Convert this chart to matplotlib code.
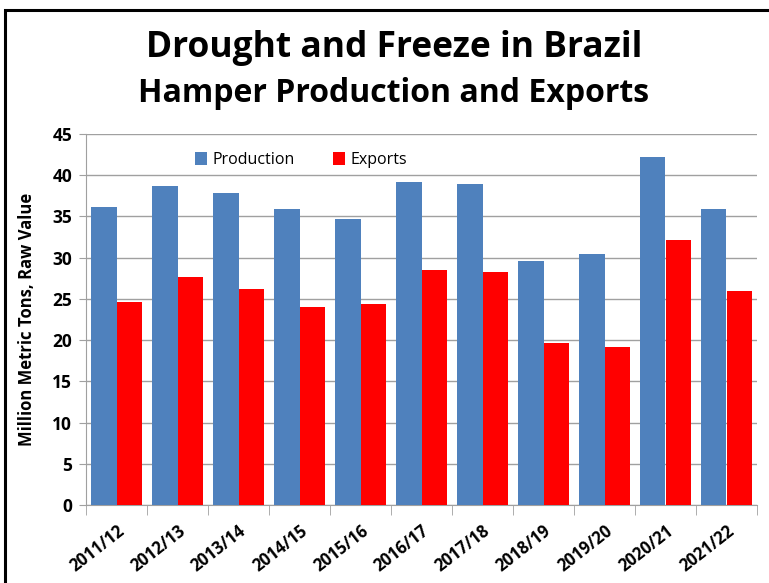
import numpy as np
import matplotlib
matplotlib.use("Agg")
from matplotlib import pyplot as plt
from matplotlib.patches import Rectangle

seasons = ["2011/12", "2012/13", "2013/14", "2014/15", "2015/16", "2016/17",
           "2017/18", "2018/19", "2019/20", "2020/21", "2021/22"]
production = [36.2, 38.7, 37.8, 35.9, 34.7, 39.2, 38.9, 29.6, 30.4, 42.2, 35.9]
exports = [24.6, 27.7, 26.2, 24.0, 24.4, 28.5, 28.3, 19.6, 19.2, 32.2, 26.0]
y_ticks = [0, 5, 10, 15, 20, 25, 30, 35, 40, 45]

plt.rcParams["font.family"] = ["Open Sans", "DejaVu Sans"]

fig = plt.figure(figsize=(7.69, 5.83), dpi=100)
# only the left and top edges of the frame show in the picture
fig.patches.append(Rectangle((5 / 769, -0.1), 1.2, (583 - 10) / 583 + 0.1,
                             transform=fig.transFigure, fill=False,
                             edgecolor="black", linewidth=2.2))

ax = fig.add_axes([86 / 769, 78 / 583, 671 / 769, 371 / 583])
x = np.arange(len(seasons))
w = 0.42
ax.bar(x - w / 2, production, w, color="#4F81BD", label="Production", zorder=3)
ax.bar(x + w / 2, exports, w, color="#FF0000", label="Exports", zorder=3)

ax.set_xlim(-0.5, len(seasons) - 0.5)
ax.set_ylim(0, 45)
ax.set_yticks(y_ticks)
ax.set_yticklabels([str(v) for v in y_ticks], fontsize=12.5, fontweight="bold")
ax.yaxis.grid(True, color="#A0A0A0", linewidth=1, zorder=0)
ax.tick_params(axis="y", length=5, color="#A0A0A0", pad=5)

ax.set_xticks(x)
ax.set_xticklabels(seasons, rotation=38, ha="right", rotation_mode="anchor",
                   fontsize=12, fontweight="bold")
ax.tick_params(axis="x", length=0, pad=12)
ax.set_xticks(np.arange(-0.5, len(seasons)), minor=True)
ax.tick_params(axis="x", which="minor", length=7, color="#A0A0A0")

for s in ["top", "right"]:
    ax.spines[s].set_visible(False)
for s in ["left", "bottom"]:
    ax.spines[s].set_color("#A0A0A0")

ax.set_ylabel("Million Metric Tons, Raw Value", fontsize=12, fontweight="bold", labelpad=12)

ax.legend(loc="upper center", bbox_to_anchor=(0.32, 0.99), ncol=2, frameon=False,
          fontsize=11.5, handlelength=0.8, handleheight=0.8, columnspacing=2.4,
          handletextpad=0.3)

fig.text(0.512, 0.918, "Drought and Freeze in Brazil", ha="center", va="center",
         fontsize=25.5, fontweight="bold")
fig.text(0.512, 0.84, "Hamper Production and Exports", ha="center", va="center",
         fontsize=23, fontweight="bold")

fig.savefig("out.png", dpi=100)
